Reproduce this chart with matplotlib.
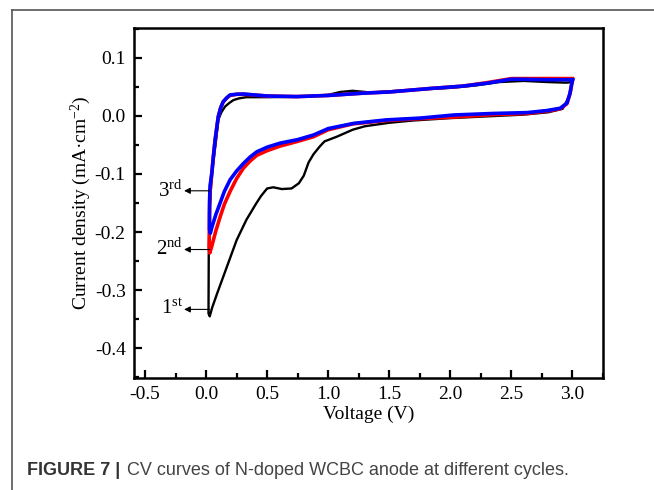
import matplotlib as mpl
import matplotlib.pyplot as plt
from matplotlib.ticker import MultipleLocator
from matplotlib.lines import Line2D

# cycle 1 (black): cathodic sweep 3.0 -> 0.0 V, then anodic sweep back to 3.0 V
v1 = [3.0, 2.97, 2.92, 2.8, 2.6, 2.3, 2.0, 1.7, 1.5, 1.3, 1.2, 1.07, 0.97, 0.93, 0.88, 0.84,
      0.8, 0.76, 0.7, 0.62, 0.55, 0.5, 0.45, 0.41, 0.33, 0.25, 0.17, 0.09, 0.05, 0.03,
      0.02, 0.022, 0.03, 0.047, 0.065, 0.082, 0.1, 0.125, 0.156, 0.19, 0.224, 0.27, 0.33,
      0.5, 0.8, 1.0, 1.1, 1.2, 1.35, 1.5, 1.8, 2.0, 2.2, 2.4, 2.6, 2.8, 2.95, 3.0]
j1 = [0.058, 0.032, 0.012, 0.006, 0.002, -0.001, -0.004, -0.008, -0.012, -0.018, -0.024,
      -0.036, -0.044, -0.053, -0.066, -0.08, -0.103, -0.116, -0.125, -0.126, -0.123,
      -0.125, -0.138, -0.151, -0.179, -0.214, -0.26, -0.306, -0.33, -0.345,
      -0.34, -0.24, -0.16, -0.099, -0.07, -0.042, -0.007, 0.006, 0.016, 0.022, 0.027,
      0.030, 0.032, 0.032, 0.033, 0.036, 0.041, 0.043, 0.040, 0.042, 0.046, 0.048, 0.052,
      0.058, 0.060, 0.058, 0.057, 0.058]

# cycle 2 (red)
v2 = [3.0, 2.98, 2.955, 2.9, 2.79, 2.63, 2.35, 2.05, 1.75, 1.48, 1.2, 1.0, 0.88, 0.75,
      0.607, 0.5, 0.415, 0.36, 0.306, 0.25, 0.197, 0.15, 0.115, 0.08, 0.046, 0.03,
      0.025, 0.028, 0.033, 0.047, 0.06, 0.074, 0.1, 0.12, 0.14, 0.17, 0.197, 0.25, 0.306,
      0.5, 0.74, 1.0, 1.29, 1.5, 1.84, 2.1, 2.3, 2.5, 2.8, 3.0]
j2 = [0.062, 0.038, 0.021, 0.012, 0.008, 0.004, 0.002, -0.002, -0.005, -0.008, -0.014,
      -0.024, -0.036, -0.044, -0.052, -0.06, -0.068, -0.078, -0.09, -0.108, -0.13,
      -0.152, -0.174, -0.198, -0.225, -0.236,
      -0.225, -0.17, -0.13, -0.099, -0.07, -0.042, -0.0015, 0.014, 0.024, 0.031, 0.035,
      0.037, 0.037, 0.034, 0.033, 0.035, 0.039, 0.041, 0.047, 0.051, 0.057, 0.064,
      0.064, 0.064]

# cycle 3 (blue)
v3 = [3.0, 2.98, 2.955, 2.9, 2.79, 2.63, 2.35, 2.03, 1.75, 1.48, 1.21, 1.0, 0.88, 0.75,
      0.607, 0.5, 0.415, 0.36, 0.306, 0.25, 0.197, 0.15, 0.115, 0.08, 0.05, 0.035,
      0.028, 0.028, 0.033, 0.047, 0.06, 0.074, 0.1, 0.12, 0.14, 0.17, 0.197, 0.25, 0.306,
      0.5, 0.74, 1.0, 1.29, 1.5, 1.84, 2.1, 2.3, 2.5, 2.8, 3.0]
j3 = [0.062, 0.039, 0.022, 0.013, 0.009, 0.0055, 0.004, 0.0014, -0.004, -0.007, -0.013,
      -0.022, -0.033, -0.041, -0.047, -0.054, -0.062, -0.071, -0.082, -0.095, -0.11,
      -0.13, -0.15, -0.17, -0.19, -0.202,
      -0.195, -0.15, -0.12, -0.099, -0.07, -0.042, -0.0015, 0.014, 0.024, 0.031, 0.036,
      0.037, 0.0375, 0.034, 0.033, 0.035, 0.039, 0.041, 0.047, 0.051, 0.056, 0.063,
      0.062, 0.062]

cycle_labels = ['1', '2', '3']
cycle_sups = ['st', 'nd', 'rd']
cycle_arrow_y = [-0.333, -0.23, -0.129]

dpi = 100
fig = plt.figure(dpi=dpi, figsize=(654 / dpi, 490 / dpi))
mpl.rcParams.update({'font.family': ['Liberation Serif', 'DejaVu Serif'],
                     'mathtext.default': 'regular', 'font.size': 14})

# page-like frame around the figure
fig.add_artist(Line2D([12 / 654, 12 / 654], [0, 1 - 10 / 490], transform=fig.transFigure,
                      color='#555555', lw=1.2))
fig.add_artist(Line2D([12 / 654, 1], [1 - 10 / 490, 1 - 10 / 490], transform=fig.transFigure,
                      color='#555555', lw=1.2))

ax = fig.add_axes([134 / 654, 1 - 378 / 490, 469 / 654, 350 / 490])
ax.plot(v1, j1, color='black', lw=1.7)
ax.plot(v2, j2, color='#ff0000', lw=2.6)
ax.plot(v3, j3, color='#0000ff', lw=2.6)

ax.set_xlim(-0.59, 3.25)
ax.set_ylim(-0.451, 0.151)
ax.xaxis.set_major_locator(MultipleLocator(0.5))
ax.xaxis.set_minor_locator(MultipleLocator(0.25))
ax.yaxis.set_major_locator(MultipleLocator(0.1))
ax.yaxis.set_minor_locator(MultipleLocator(0.05))
ax.xaxis.set_major_formatter(mpl.ticker.FormatStrFormatter('%.1f'))
ax.yaxis.set_major_formatter(mpl.ticker.FormatStrFormatter('%.1f'))
ax.tick_params(which='both', direction='in', width=1.6, labelsize=14, pad=6)
ax.tick_params(which='major', length=6)
ax.tick_params(which='minor', length=3.5)
for s in ax.spines.values():
    s.set_linewidth(1.8)

ax.set_xlabel('Voltage (V)', fontsize=14, labelpad=2)
ax.set_ylabel('Current density (mA·cm$^{-2}$)', fontsize=14, labelpad=1)

for lab, sup, y in zip(cycle_labels, cycle_sups, cycle_arrow_y):
    ax.annotate('', xy=(-0.18, y), xytext=(0.03, y),
                arrowprops=dict(arrowstyle='-|>', color='black', lw=0.8,
                                mutation_scale=9, shrinkA=0, shrinkB=0))
    ax.text(-0.19, y, lab + '$^{' + sup + '}$', ha='right', va='center', fontsize=15)

fig.text(27 / 654, 1 - 470 / 490, 'FIGURE 7 |', fontsize=13, fontweight='bold',
         family='Liberation Sans', color='#333333', va='center')
fig.text(127 / 654, 1 - 470 / 490, 'CV curves of N-doped WCBC anode at different cycles.',
         fontsize=13, family='Liberation Sans', color='#444444', va='center')

fig.savefig('out.png')
